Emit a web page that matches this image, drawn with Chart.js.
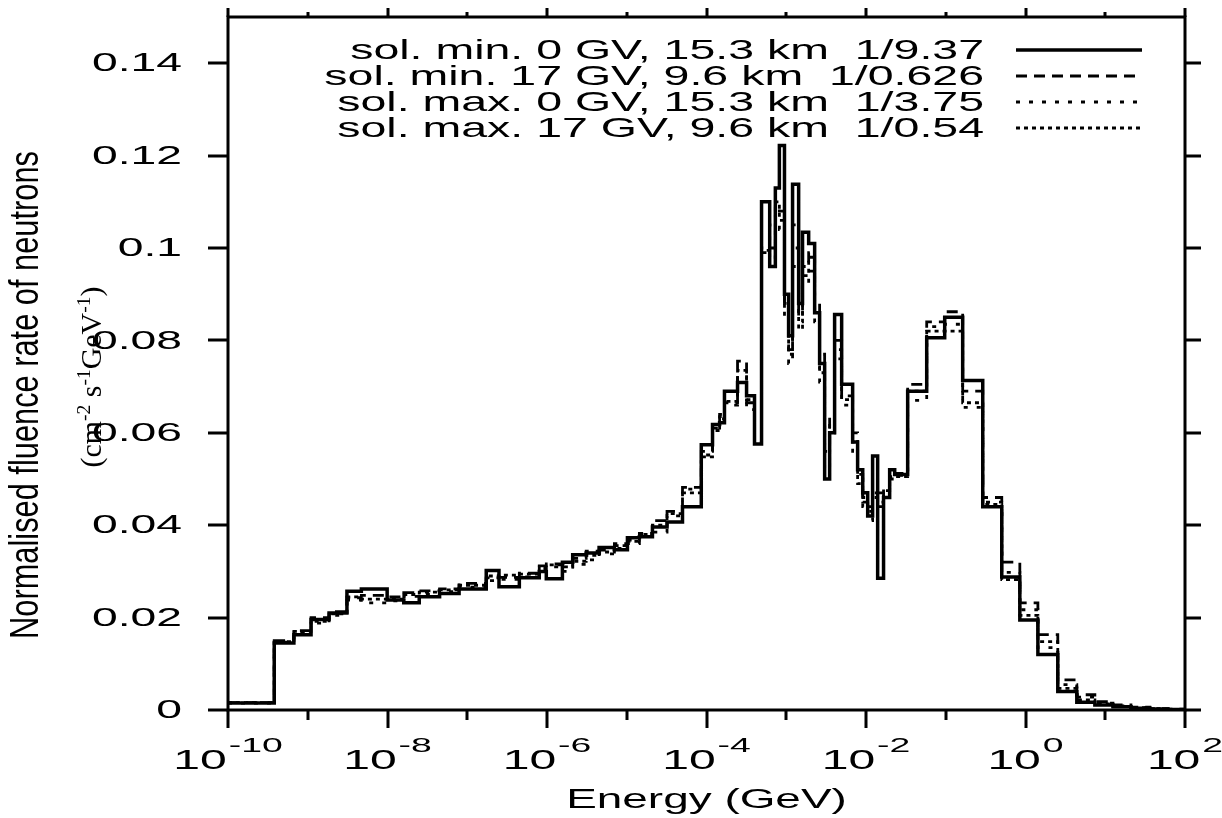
<!DOCTYPE html>
<html>
<head>
<meta charset="utf-8">
<script src="https://cdn.jsdelivr.net/npm/chart.js@4.4.1/dist/chart.umd.min.js"></script>
<style>
  html, body { margin: 0; padding: 0; background: #fff; }
  #wrap { width: 1222px; height: 818px; }
</style>
</head>
<body>
<div id="wrap"><canvas id="c" width="1222" height="818"></canvas></div>
<script>
// Energy bin edges (GeV) of the neutron spectrum histogram
const binEdges = [
  1e-10, 3.8e-10, 6.7e-10, 1.1e-9, 1.85e-9, 3.1e-9, 4.7e-9, 9.9e-9, 1.6e-8, 2.5e-8,
  4.5e-8, 7.9e-8, 1.73e-7, 2.5e-7, 4.5e-7, 8.0e-7, 9.8e-7, 1.56e-6, 2.1e-6, 3.1e-6,
  4.5e-6, 7.0e-6, 1.02e-5, 1.44e-5, 2.1e-5, 3.2e-5, 5.0e-5, 8.6e-5, 1.19e-4, 1.46e-4,
  1.68e-4, 2.45e-4, 3.18e-4, 4.0e-4, 4.9e-4, 6.2e-4, 7.3e-4, 8.2e-4, 9.5e-4, 1.07e-3,
  1.20e-3, 1.43e-3, 1.60e-3, 1.91e-3, 2.27e-3, 2.62e-3, 3.03e-3, 3.50e-3, 4.04e-3, 4.95e-3,
  6.8e-3, 7.85e-3, 9.1e-3, 1.05e-2, 1.21e-2, 1.40e-2, 1.66e-2, 1.98e-2, 2.29e-2, 3.33e-2,
  5.77e-2, 9.7e-2, 0.163, 0.291, 0.504, 0.849, 1.43, 2.54, 4.40, 7.41,
  12.5, 21.0, 36.3, 61.1, 100
];

// Normalised fluence rate per bin (cm^-2 s^-1 GeV^-1)
const solMin0GV = [
  0.0015, 0.0145, 0.0163, 0.0196, 0.0210, 0.0257, 0.0262, 0.0238, 0.0232, 0.0245,
  0.0252, 0.0262, 0.0302, 0.0267, 0.0286, 0.0300, 0.0284, 0.0320, 0.0336, 0.0340,
  0.0352, 0.0347, 0.0373, 0.0375, 0.0396, 0.0407, 0.0440, 0.0574, 0.0618, 0.0622,
  0.0690, 0.0709, 0.0680, 0.0576, 0.1100, 0.0960, 0.1130, 0.1222, 0.0900, 0.0810,
  0.1138, 0.0880, 0.1034, 0.1010, 0.0860, 0.0750, 0.0500, 0.0600, 0.0856, 0.0705,
  0.0580, 0.0520, 0.0470, 0.0420, 0.0550, 0.0285, 0.0460, 0.0520, 0.0510, 0.0690,
  0.0806, 0.0850, 0.0713, 0.0440, 0.0288, 0.0195, 0.0120, 0.0040, 0.0017, 0.0011,
  0.0007, 0.0004, 0.0002, 0.0001
];
const solMin17GV = [
  0.0016, 0.0150, 0.0172, 0.0200, 0.0213, 0.0243, 0.0248, 0.0245, 0.0254, 0.0258,
  0.0262, 0.0274, 0.0286, 0.0287, 0.0296, 0.0312, 0.0316, 0.0318, 0.0328, 0.0344,
  0.0346, 0.0360, 0.0368, 0.0382, 0.0410, 0.0430, 0.0482, 0.0560, 0.0610, 0.0640,
  0.0665, 0.0755, 0.0665, 0.0590, 0.1000, 0.1000, 0.1090, 0.1080, 0.0880, 0.0780,
  0.1050, 0.0860, 0.0960, 0.0990, 0.0880, 0.0770, 0.0560, 0.0640, 0.0800, 0.0680,
  0.0600, 0.0510, 0.0460, 0.0440, 0.0480, 0.0470, 0.0480, 0.0510, 0.0512, 0.0705,
  0.0840, 0.0862, 0.0690, 0.0460, 0.0320, 0.0232, 0.0163, 0.0065, 0.0033, 0.0018,
  0.0011, 0.0006, 0.0003, 0.0002
];
const solMax0GV = [
  0.0015, 0.0147, 0.0168, 0.0188, 0.0205, 0.0238, 0.0232, 0.0236, 0.0246, 0.0250,
  0.0256, 0.0266, 0.0280, 0.0283, 0.0288, 0.0305, 0.0310, 0.0300, 0.0315, 0.0325,
  0.0338, 0.0350, 0.0360, 0.0376, 0.0385, 0.0420, 0.0478, 0.0552, 0.0600, 0.0630,
  0.0660, 0.0720, 0.0650, 0.0585, 0.0995, 0.1050, 0.1050, 0.1040, 0.0850, 0.0750,
  0.0960, 0.0820, 0.0920, 0.0950, 0.0840, 0.0710, 0.0520, 0.0620, 0.0760, 0.0660,
  0.0560, 0.0490, 0.0440, 0.0410, 0.0460, 0.0440, 0.0470, 0.0500, 0.0508, 0.0670,
  0.0830, 0.0835, 0.0655, 0.0450, 0.0298, 0.0217, 0.0135, 0.0055, 0.0028, 0.0015,
  0.0009, 0.0005, 0.0003, 0.0001
];
const solMax17GV = [
  0.0016, 0.0148, 0.0170, 0.0192, 0.0208, 0.0245, 0.0240, 0.0240, 0.0250, 0.0255,
  0.0260, 0.0270, 0.0290, 0.0292, 0.0294, 0.0310, 0.0314, 0.0310, 0.0322, 0.0335,
  0.0342, 0.0356, 0.0365, 0.0380, 0.0400, 0.0425, 0.0470, 0.0548, 0.0605, 0.0635,
  0.0668, 0.0735, 0.0672, 0.0580, 0.0990, 0.0980, 0.1100, 0.1060, 0.0870, 0.0770,
  0.1000, 0.0840, 0.0940, 0.0980, 0.0860, 0.0730, 0.0540, 0.0600, 0.0780, 0.0672,
  0.0580, 0.0500, 0.0450, 0.0430, 0.0470, 0.0450, 0.0475, 0.0505, 0.0505, 0.0690,
  0.0820, 0.0820, 0.0665, 0.0445, 0.0282, 0.0205, 0.0148, 0.0047, 0.0022, 0.0013,
  0.0008, 0.0005, 0.0002, 0.0001
];

const seriesLabels = [
  'sol. min. 0 GV, 15.3 km  1/9.37',
  'sol. min. 17 GV, 9.6 km  1/0.626',
  'sol. max. 0 GV, 15.3 km  1/3.75',
  'sol. max. 17 GV, 9.6 km  1/0.54'
];

// Axis ticks
const yTickValues = [0, 0.02, 0.04, 0.06, 0.08, 0.1, 0.12, 0.14];
const yTickLabels = ['0', '0.02', '0.04', '0.06', '0.08', '0.1', '0.12', '0.14'];
const xMajorExponents = [-10, -8, -6, -4, -2, 0, 2];
const xMinorExponents = [-9, -7, -5, -3, -1, 1];

const xTitle = 'Energy (GeV)';
const yTitle = 'Normalised fluence rate of neutrons';

// Line style of each series: width and dash pattern
const styles = [
  { width: 3.5, dash: [] },
  { width: 2.8, dash: [11, 7] },
  { width: 2.8, dash: [4, 9] },
  { width: 2.8, dash: [4, 4] }
];

function stepPoints(vals) {
  const pts = vals.map((v, i) => ({ x: binEdges[i], y: v }));
  pts.push({ x: binEdges[binEdges.length - 1], y: vals[vals.length - 1] });
  return pts;
}

const SANS = '"Liberation Sans", Arial, Helvetica, sans-serif';
const SERIF = '"Liberation Serif", "Times New Roman", serif';
const SX = 1.78; // wide lettering of the gnuplot-style labels

function stretchedText(ctx, text, x, y, align, font, sx) {
  ctx.save();
  ctx.font = font;
  const w = ctx.measureText(text).width * sx;
  let left = x;
  if (align === 'right') left = x - w;
  else if (align === 'center') left = x - w / 2;
  ctx.translate(left, y);
  ctx.scale(sx, 1);
  ctx.textAlign = 'left';
  ctx.fillText(text, 0, 0);
  ctx.restore();
  return w;
}

const framePlugin = {
  id: 'frameAndText',
  afterDraw(chart) {
    const ctx = chart.ctx;
    const a = chart.chartArea;
    const xs = chart.scales.x, ys = chart.scales.y;
    ctx.save();
    ctx.strokeStyle = '#000';
    ctx.fillStyle = '#000';
    ctx.lineWidth = 3;
    ctx.setLineDash([]);
    ctx.lineCap = 'butt';
    ctx.strokeRect(a.left, a.top, a.right - a.left, a.bottom - a.top);

    // y ticks (outward on left and right)
    ctx.lineWidth = 3;
    yTickValues.forEach(v => {
      const py = Math.round(ys.getPixelForValue(v));
      ctx.beginPath();
      ctx.moveTo(a.left - 20, py); ctx.lineTo(a.left, py);
      ctx.moveTo(a.right, py); ctx.lineTo(a.right + 16, py);
      ctx.stroke();
    });
    // x ticks (outward on bottom and top)
    xMajorExponents.forEach(e => {
      const px = Math.round(xs.getPixelForValue(Math.pow(10, e)));
      ctx.beginPath();
      ctx.moveTo(px, a.bottom); ctx.lineTo(px, a.bottom + 18);
      ctx.moveTo(px, a.top); ctx.lineTo(px, a.top - 9);
      ctx.stroke();
    });
    xMinorExponents.forEach(e => {
      const px = Math.round(xs.getPixelForValue(Math.pow(10, e)));
      ctx.beginPath();
      ctx.moveTo(px, a.bottom); ctx.lineTo(px, a.bottom + 10);
      ctx.moveTo(px, a.top); ctx.lineTo(px, a.top - 5);
      ctx.stroke();
    });

    // y tick labels
    ctx.textBaseline = 'middle';
    yTickValues.forEach((v, i) => {
      const py = ys.getPixelForValue(v);
      stretchedText(ctx, yTickLabels[i], 182, py + 1, 'right', '26px ' + SANS, SX);
    });

    // x tick labels: 10 with superscript exponent
    ctx.textBaseline = 'alphabetic';
    xMajorExponents.forEach(e => {
      const px = xs.getPixelForValue(Math.pow(10, e));
      const base = '10', sup = String(e);
      ctx.font = '27px ' + SANS;
      const wb = ctx.measureText(base).width * SX;
      ctx.font = '21px ' + SANS;
      const ws = ctx.measureText(sup).width * SX;
      const left = px - (wb + ws + 2) / 2;
      stretchedText(ctx, base, left, a.bottom + 59, 'left', '27px ' + SANS, SX);
      stretchedText(ctx, sup, left + wb + 2, a.bottom + 42, 'left', '21px ' + SANS, SX);
    });

    // x axis title
    stretchedText(ctx, xTitle, (a.left + a.right) / 2, 808, 'center', '27px ' + SANS, 1.7);

    // y axis title (rotated)
    ctx.save();
    ctx.translate(27, 395);
    ctx.rotate(-Math.PI / 2);
    ctx.scale(1.1, 1.45);
    ctx.font = '28px ' + SANS;
    ctx.textAlign = 'center';
    ctx.textBaseline = 'middle';
    ctx.fillText(yTitle, 0, 0);
    ctx.restore();

    // unit line in serif with superscripts (rotated)
    const parts = [
      { t: '(cm', sup: false }, { t: '-2', sup: true }, { t: ' s', sup: false },
      { t: '-1', sup: true }, { t: 'GeV', sup: false }, { t: '-1', sup: true }, { t: ')', sup: false }
    ];
    ctx.save();
    ctx.translate(92, 377);
    ctx.rotate(-Math.PI / 2);
    ctx.scale(1.15, 1.15);
    ctx.textBaseline = 'alphabetic';
    ctx.textAlign = 'left';
    let total = 0;
    parts.forEach(p => {
      ctx.font = (p.sup ? '17px ' : '26px ') + SERIF;
      p.w = ctx.measureText(p.t).width;
      total += p.w;
    });
    let cx = -total / 2;
    parts.forEach(p => {
      ctx.font = (p.sup ? '17px ' : '26px ') + SERIF;
      ctx.fillText(p.t, cx, p.sup ? -2 : 8);
      cx += p.w;
    });
    ctx.restore();

    // key
    const rows = [50, 76, 102, 128];
    ctx.textBaseline = 'middle';
    rows.forEach((ry, i) => {
      stretchedText(ctx, seriesLabels[i], 984, ry + 1, 'right', '28px ' + SANS, 1.66);
      ctx.save();
      ctx.lineWidth = styles[i].width;
      ctx.setLineDash(styles[i].dash);
      ctx.beginPath();
      ctx.moveTo(1016, ry); ctx.lineTo(1142, ry);
      ctx.stroke();
      ctx.restore();
    });
    ctx.restore();
  }
};

const allSeries = [solMin0GV, solMin17GV, solMax0GV, solMax17GV];

new Chart(document.getElementById('c'), {
  type: 'line',
  data: {
    datasets: allSeries.map((vals, i) => ({
      label: seriesLabels[i],
      data: stepPoints(vals),
      stepped: true,
      borderColor: '#000',
      borderWidth: styles[i].width,
      borderDash: styles[i].dash,
      pointRadius: 0,
      fill: false,
      tension: 0
    }))
  },
  options: {
    responsive: false,
    animation: false,
    devicePixelRatio: 1,
    layout: { padding: { left: 228, right: 37, top: 17, bottom: 108 } },
    plugins: { legend: { display: false }, tooltip: { enabled: false } },
    scales: {
      x: { type: 'logarithmic', min: 1e-10, max: 100, display: false },
      y: { type: 'linear', min: 0, max: 0.15, display: false }
    }
  },
  plugins: [framePlugin]
});
</script>
</body>
</html>
